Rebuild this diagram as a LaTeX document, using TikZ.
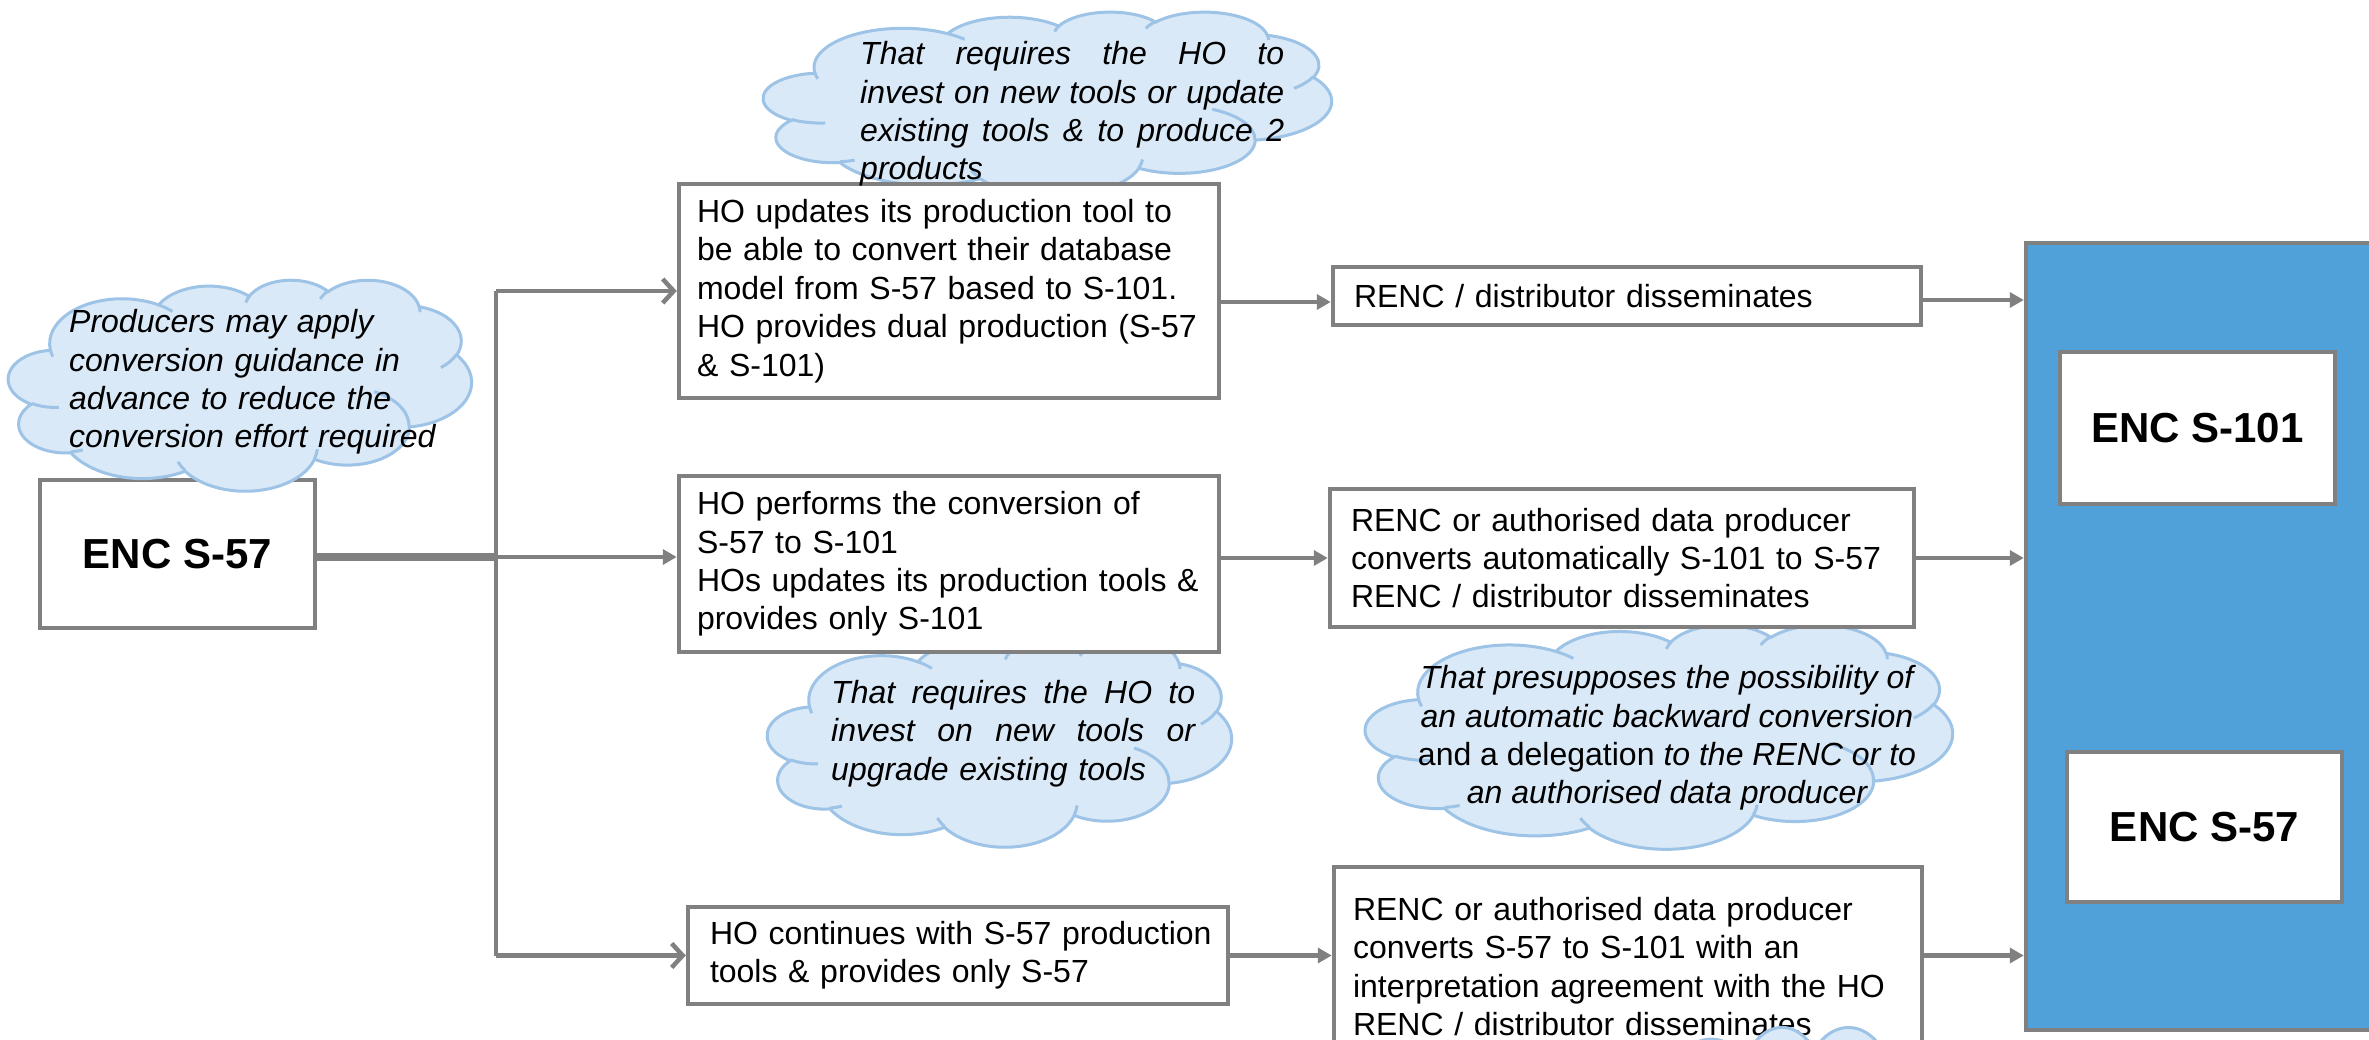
\documentclass[tikz,border=0pt]{standalone}
\usepackage{fontspec}
\setmainfont{Liberation Sans}
\usetikzlibrary{arrows.meta,calc}
\definecolor{gline}{RGB}{128,128,128}
\definecolor{cfill}{RGB}{218,233,247}
\definecolor{cline}{RGB}{157,195,230}
\definecolor{panelblue}{RGB}{80,161,217}
% arcTo (visual angles) -> parametric angles, negated for a y-down drawing
\newcommand\oarc[5]{%
 \pgfmathsetmacro\tmpS{atan2((#2)*sin(#4),(#3)*cos(#4))}%
 \pgfmathsetmacro\tmpE{atan2((#2)*sin((#4)+(#5)),(#3)*cos((#4)+(#5)))}%
 \pgfmathsetmacro\tmpD{\tmpE-\tmpS}%
 \pgfmathsetmacro\tmpD{\tmpD+360*round(((#5)-\tmpD)/360)}%
 \pgfmathsetmacro\tmpS{-\tmpS}\pgfmathsetmacro\tmpD{-\tmpD}%
 \expandafter\xdef\csname oaS#1\endcsname{\tmpS}%
 \expandafter\xdef\csname oaD#1\endcsname{\tmpD}}
\oarc{a}{675.3}{919.0}{-190.4875}{123.7805}
\oarc{b}{533.3}{726.7}{-144.1024}{89.9452}
\oarc{c}{436.5}{594.5}{-145.8079}{99.7230}
\oarc{d}{485.7}{659.5}{-130.9861}{117.2417}
\oarc{e}{533.3}{727.3}{-78.7089}{109.0269}
\oarc{f}{677.5}{922.0}{-46.2673}{130.2690}
\oarc{g}{578.5}{786.7}{0.6250}{114.0333}
\oarc{h}{675.2}{921.5}{22.4516}{115.1726}
\oarc{i}{772.0}{1054.3}{66.2426}{75.7110}
\oarc{j}{436.0}{591.8}{-274.9421}{146.7356}
\oarc{k}{434.5}{594.5}{-246.8285}{152.5189}
\oarc{l}{434.5}{594.5}{86.7420}{26.4295}
\oarc{m}{436.0}{591.8}{73.6105}{11.4475}
\oarc{n}{675.2}{921.5}{137.6242}{14.0811}
\oarc{o}{675.2}{921.5}{6.4533}{15.9984}
\oarc{p}{578.5}{786.7}{-70.2924}{70.9174}
\oarc{q}{533.3}{727.3}{30.3180}{27.7515}
\oarc{r}{485.7}{659.5}{-13.7443}{14.8589}
\oarc{s}{485.7}{659.5}{-149.1815}{18.1954}
\oarc{t}{436.5}{594.5}{-163.4943}{17.6864}
\oarc{u}{675.3}{919.0}{-66.7070}{12.3194}
\oarc{v}{675.3}{919.0}{157.6544}{11.8582}
\tikzset{
 box/.style={draw=gline, line width=4.5pt, fill=white, inner ysep=0pt, font=\fontsize{32}{38.4}\selectfont, align=left},
 bigbox/.style={draw=gline, line width=4.5pt, fill=white, inner sep=0pt, font=\fontsize{42}{50}\selectfont\bfseries},
 cloudbody/.style={draw=cline, fill=cfill, line width=3pt},
 cloudinner/.style={draw=cline, line width=3pt},
 ctext/.style={font=\fontsize{32}{38.4}\selectfont\itshape, inner sep=0pt, align=left},
 conn/.style={draw=gline, line width=4.5pt},
 farrow/.style={conn, -{Triangle[length=14pt,width=15pt]}},
 oarrow/.style={conn, -{Straight Barb[length=11pt,width=24pt]}},
}
\newcommand\jline[2]{\leavevmode\hbox to #1{#2}}
% PowerPoint-like cloud: name, centre x, centre y, width, height
\newcommand\ppcloud[5]{%
\begin{scope}[shift={(#2,#3)}, xscale={(#4)/4320}, yscale={(#5)/4320}, shift={(-2160,-2160)}]
\path[cloudbody] (390,1437)
 arc[x radius=675.3pt, y radius=919.0pt, start angle=\oaSa, delta angle=\oaDa]
 arc[x radius=533.3pt, y radius=726.7pt, start angle=\oaSb, delta angle=\oaDb]
 arc[x radius=436.5pt, y radius=594.5pt, start angle=\oaSc, delta angle=\oaDc]
 arc[x radius=485.7pt, y radius=659.5pt, start angle=\oaSd, delta angle=\oaDd]
 arc[x radius=533.3pt, y radius=727.3pt, start angle=\oaSe, delta angle=\oaDe]
 arc[x radius=677.5pt, y radius=922.0pt, start angle=\oaSf, delta angle=\oaDf]
 arc[x radius=578.5pt, y radius=786.7pt, start angle=\oaSg, delta angle=\oaDg]
 arc[x radius=675.2pt, y radius=921.5pt, start angle=\oaSh, delta angle=\oaDh]
 arc[x radius=772.0pt, y radius=1054.3pt, start angle=\oaSi, delta angle=\oaDi]
 arc[x radius=436.0pt, y radius=591.8pt, start angle=\oaSj, delta angle=\oaDj]
 arc[x radius=434.5pt, y radius=594.5pt, start angle=\oaSk, delta angle=\oaDk]
 -- cycle;
\path[cloudinner]
 (469.3,2617.7) arc[x radius=434.5pt, y radius=594.5pt, start angle=\oaSl, delta angle=\oaDl]
 (692.8,3489.9) arc[x radius=436.0pt, y radius=591.8pt, start angle=\oaSm, delta angle=\oaDm]
 (1647.8,3909.0) arc[x radius=675.2pt, y radius=921.5pt, start angle=\oaSn, delta angle=\oaDn]
 (2882.7,3475.1) arc[x radius=675.2pt, y radius=921.5pt, start angle=\oaSo, delta angle=\oaDo]
 (3412.9,2295.4) arc[x radius=578.5pt, y radius=786.7pt, start angle=\oaSp, delta angle=\oaDp]
 (4179.8,1535.4) arc[x radius=533.3pt, y radius=727.3pt, start angle=\oaSq, delta angle=\oaDq]
 (3832.4,542.6) arc[x radius=485.7pt, y radius=659.5pt, start angle=\oaSr, delta angle=\oaDr]
 (2907.8,395.2) arc[x radius=485.7pt, y radius=659.5pt, start angle=\oaSs, delta angle=\oaDs]
 (2214.1,472.0) arc[x radius=436.5pt, y radius=594.5pt, start angle=\oaSt, delta angle=\oaDt]
 (1400.0,519.2) arc[x radius=675.3pt, y radius=919.0pt, start angle=\oaSu, delta angle=\oaDu]
 (412.7,1578.9) arc[x radius=675.3pt, y radius=919.0pt, start angle=\oaSv, delta angle=\oaDv];
\coordinate (#1) at (2160,2160);
\end{scope}}
\begin{document}
\begin{tikzpicture}[x=1pt,y=-1pt]
\useasboundingbox (0,0) rectangle (2369,1040);
\fill[white] (0,0) rectangle (2369,1040);
\clip (0,0) rectangle (2369,1040);

% clouds behind boxes
\ppcloud{K2}{1047.5}{103.5}{568}{184}
\ppcloud{K3}{999.5}{741.5}{464}{210}
\ppcloud{K4}{1659}{736.5}{587}{224}

% boxes
\node[bigbox, minimum width=275pt, minimum height=148pt] (E57) at (177.5,554) {ENC S-57};
\node[box, minimum width=540pt, minimum height=214pt, inner xsep=18pt, text width=504pt] (A) at (949,291)
 {HO updates its production tool to\\be able to convert their database\\model from S-57 based to S-101.\\HO provides dual production (S-57\\\& S-101)};
\node[box, minimum width=540pt, minimum height=176pt, inner xsep=18pt, text width=504pt] (B) at (949,564)
 {HO performs the conversion of\\S-57 to S-101\\HOs updates its production tools \&\\provides only S-101};
\node[box, minimum width=540pt, minimum height=97pt, inner xsep=8pt, text width=524pt] (C) at (958,955.5)
 {\hspace*{14pt}HO continues with S-57 production\\\hspace*{14pt}tools \& provides only S-57};
\node[box, minimum width=588pt, minimum height=58pt, inner xsep=21pt, text width=546pt] (R1) at (1627,296)
 {RENC / distributor disseminates};
\node[box, minimum width=584pt, minimum height=138pt, inner xsep=21pt, text width=542pt] (R2) at (1622,558)
 {RENC or authorised data producer\\converts automatically S-101 to S-57\\RENC / distributor disseminates};
\node[box, minimum width=588pt, minimum height=199pt, inner xsep=19pt, text width=550pt] (R3) at (1628,966.5)
 {RENC or authorised data producer\\converts S-57 to S-101 with an\\interpretation agreement with the HO\\RENC / distributor disseminates};

% right panel
\node[draw=gline, fill=panelblue, line width=4.5pt, minimum width=374pt, minimum height=787pt, inner sep=0pt] (P) at (2213,636.5) {};
\node[bigbox, minimum width=275pt, minimum height=152pt] (E101) at (2197.5,428) {ENC S-101};
\node[bigbox, minimum width=275pt, minimum height=150pt] (E57r) at (2204.5,827) {ENC S-57};

% clouds in front
\ppcloud{K1}{240}{385}{463}{211}
\ppcloud{K5}{1738}{1236}{400}{420}

% connectors
\coordinate (J) at (496,557);
\draw[conn, line width=8pt] (E57.east |- J) -- (J);
\draw[conn] (J |- A.west) -- (J |- C.west);
\draw[oarrow] (J |- A.west) -- (A.west);
\draw[farrow] (J) -- (J -| B.west);
\draw[oarrow] (J |- C.west) -- (C.west);
\draw[farrow] ([yshift=-11pt]A.east) -- ([yshift=-11pt]A.east -| R1.west);
\draw[farrow] ([yshift=-4pt]R1.east) -- ([yshift=-4pt]R1.east -| P.west);
\draw[farrow] (B.east |- R2.west) -- (R2.west);
\draw[farrow] (R2.east) -- (R2.east -| P.west);
\draw[farrow] (C.east) -- (C.east -| R3.west);
\draw[farrow] (R3.east |- C.east) -- (C.east -| P.west);

% cloud texts
\node[ctext, anchor=west, text width=420pt] (T1) at (69,382)
 {Producers may apply\\conversion guidance in\\advance to reduce the\\conversion effort required};
\node[ctext, anchor=west, text width=430pt] (T2) at (860,114)
 {\jline{424pt}{That\hfill requires\hfill the\hfill HO\hfill to}\\\jline{424pt}{invest\hfill on\hfill new\hfill tools\hfill or\hfill update}\\\jline{424pt}{existing\hfill tools\hfill \&\hfill to\hfill produce\hfill 2}\\products};
\node[ctext, anchor=west, text width=370pt] (T3) at (831,733.5)
 {\jline{364pt}{That\hfill requires\hfill the\hfill HO\hfill to}\\\jline{364pt}{invest\hfill on\hfill new\hfill tools\hfill or}\\upgrade existing tools};
\node[ctext, align=center] (T4) at (1667,738)
 {That presupposes the possibility of\\an automatic backward conversion\\{\upshape and a delegation} to the RENC or to\\an authorised data producer};
\end{tikzpicture}
\end{document}
